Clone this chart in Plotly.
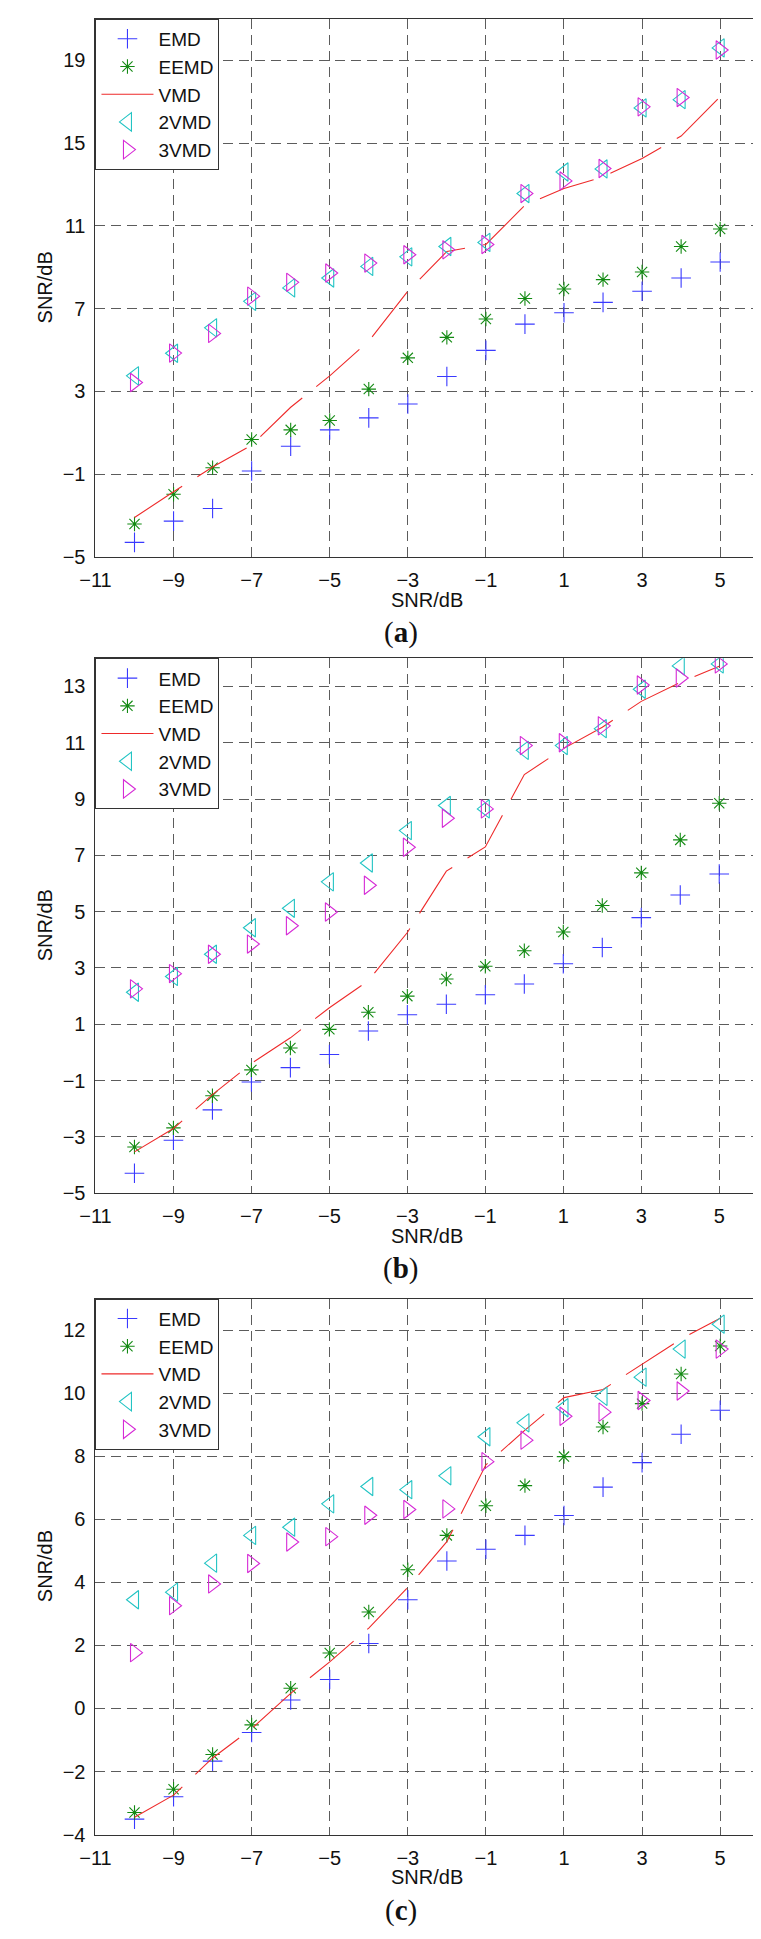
import plotly.graph_objects as go

# ---------------- data ----------------
snr_in = [-10, -9, -8, -7, -6, -5, -4, -3, -2, -1, 0, 1, 2, 3, 4, 5]

a_emd = [-4.3, -3.27, -2.66, -0.85, 0.35, 1.14, 1.72, 2.39, 3.72, 4.98, 6.25, 6.8, 7.3, 7.84, 8.48, 9.25]
a_eemd = [-3.41, -1.97, -0.69, 0.67, 1.14, 1.59, 3.11, 4.62, 5.61, 6.5, 7.49, 7.95, 8.4, 8.77, 10.0, 10.85]
a_vmd = [-3.1, -1.85, -0.66, 0.4, 2.23, 3.75, 5.43, 7.84, 9.76, 10.1, 12.0, 12.8, 13.37, 14.25, 15.34, 17.24]
a_2vmd = [3.75, 4.84, 6.07, 7.35, 8.0, 8.48, 9.04, 9.5, 10.0, 10.2, 12.56, 13.6, 13.75, 16.7, 17.1, 19.6]
a_3vmd = [3.43, 4.85, 5.8, 7.6, 8.27, 8.72, 9.2, 9.6, 9.84, 10.1, 12.56, 13.17, 13.77, 16.75, 17.2, 19.5]

b_emd = [-4.29, -3.12, -2.04, -1.05, -0.54, -0.07, 0.76, 1.34, 1.71, 2.05, 2.43, 3.15, 3.73, 4.79, 5.59, 6.34]
b_eemd = [-3.36, -2.68, -1.54, -0.62, 0.16, 0.82, 1.43, 2.0, 2.61, 3.06, 3.61, 4.28, 5.22, 6.38, 7.55, 8.85]
b_vmd = [-3.53, -2.7, -1.5, -0.39, 0.52, 1.59, 2.55, 4.26, 6.44, 7.3, 9.87, 10.79, 11.55, 12.47, 13.14, 13.72]
b_2vmd = [2.14, 2.7, 3.49, 4.43, 5.12, 6.06, 6.73, 7.88, 8.77, 8.65, 10.73, 10.9, 11.5, 12.9, 13.73, 13.8]
b_3vmd = [2.26, 2.8, 3.49, 3.85, 4.5, 4.99, 5.94, 7.29, 8.32, 8.65, 10.9, 11.0, 11.6, 13.05, 13.3, 13.8]

c_emd = [-3.51, -2.8, -1.67, -0.76, 0.27, 0.92, 2.06, 3.45, 4.68, 5.05, 5.49, 6.12, 7.02, 7.8, 8.7, 9.46]
c_eemd = [-3.3, -2.56, -1.46, -0.52, 0.64, 1.76, 3.06, 4.4, 5.49, 6.43, 7.07, 7.99, 8.93, 9.67, 10.61, 11.5]
c_vmd = [-3.45, -2.75, -1.57, -0.64, 0.48, 1.48, 2.55, 3.84, 5.29, 7.73, 8.83, 9.86, 10.12, 10.91, 11.72, 12.38]
c_2vmd = [3.45, 3.69, 4.61, 5.49, 5.75, 6.49, 7.04, 6.94, 7.38, 8.62, 9.06, 9.54, 9.9, 10.51, 11.4, 12.19]
c_3vmd = [1.77, 3.26, 3.95, 4.6, 5.28, 5.45, 6.13, 6.31, 6.33, 7.83, 8.51, 9.27, 9.4, 9.77, 10.07, 11.4]

series_names = ["EMD", "EEMD", "VMD", "2VMD", "3VMD"]
x_ticks = [-11, -9, -7, -5, -3, -1, 1, 3, 5]
a_yticks = [-5, -1, 3, 7, 11, 15, 19]
b_yticks = [-5, -3, -1, 1, 3, 5, 7, 9, 11, 13]
c_yticks = [-4, -2, 0, 2, 4, 6, 8, 10, 12]
panel_labels = ["a", "b", "c"]

# ---------------- layout constants ----------------
W, H = 761, 1939
FONT = "Liberation Sans, Arial, sans-serif"
panels = [
    dict(data=[a_emd, a_eemd, a_vmd, a_2vmd, a_3vmd], yticks=a_yticks, yr=[-5, 21], top=11, bot=552, right=751),
    dict(data=[b_emd, b_eemd, b_vmd, b_2vmd, b_3vmd], yticks=b_yticks, yr=[-5, 14], top=654, bot=1192, right=750),
    dict(data=[c_emd, c_eemd, c_vmd, c_2vmd, c_3vmd], yticks=c_yticks, yr=[-4, 13], top=1298, bot=1837, right=751),
]
LEFT = 73

BLUE, GREEN, RED, CYAN, MAGENTA = "#3a3aff", "#138a13", "#ee2a2a", "#22c4c4", "#d62ad6"
styles = [
    dict(mode="markers", marker=dict(symbol="cross-thin-open", size=14, color=BLUE, line=dict(color=BLUE, width=1.1))),
    dict(mode="markers", marker=dict(symbol="asterisk-open", size=12, color=GREEN, line=dict(color=GREEN, width=1.1))),
    dict(mode="lines", line=dict(color=RED, width=1.1, dash="57px,18px")),
    dict(mode="markers", marker=dict(symbol="triangle-left-open", size=16, color=CYAN, line=dict(color=CYAN, width=1.1))),
    dict(mode="markers", marker=dict(symbol="triangle-right-open", size=16, color=MAGENTA, line=dict(color=MAGENTA, width=1.1))),
]

fig = go.Figure()
annotations = []
for i, p in enumerate(panels):
    sfx = "" if i == 0 else str(i + 1)
    leg = "legend" + sfx
    for name, ys, st in zip(series_names, p["data"], styles):
        fig.add_trace(go.Scatter(x=snr_in, y=ys, name=name, xaxis="x" + sfx, yaxis="y" + sfx,
                                 legend=leg, **st))
    ydom = [1 - p["bot"] / H, 1 - p["top"] / H]
    xdom = [LEFT / W, p["right"] / W]
    common = dict(showline=True, mirror=True, linecolor="#333", linewidth=1,
                  showgrid=True, gridcolor="#5c5c5c", gridwidth=1, griddash="10px,6px",
                  zeroline=False, ticks="", tickfont=dict(family=FONT, size=20, color="#111"))
    fig.layout["xaxis" + sfx] = dict(domain=xdom, range=[-11, 6], tickvals=x_ticks,
                                     anchor="y" + sfx, ticklabelstandoff=5, **common)
    fig.layout["yaxis" + sfx] = dict(domain=ydom, range=p["yr"], tickvals=p["yticks"],
                                     anchor="x" + sfx, ticklabelstandoff=5, **common)
    fig.layout[leg] = dict(x=LEFT / W, y=ydom[1], xanchor="left", yanchor="top",
                           bgcolor="white", bordercolor="#333", borderwidth=1,
                           font=dict(family=FONT, size=19, color="#111"),
                           itemwidth=52, tracegroupgap=0)
    mid_y = (p["top"] + p["bot"]) / 2
    mid_x = (LEFT + p["right"]) / 2
    annotations.append(dict(text="SNR/dB", xref="paper", yref="paper", x=21 / W, y=1 - mid_y / H,
                            textangle=-90, showarrow=False, xanchor="center", yanchor="middle",
                            font=dict(family=FONT, size=20, color="#111")))
    annotations.append(dict(text="SNR/dB", xref="paper", yref="paper", x=mid_x / W, y=1 - (p["bot"] + 43) / H,
                            showarrow=False, xanchor="center", yanchor="middle",
                            font=dict(family=FONT, size=20, color="#111")))
    annotations.append(dict(text="(<b>" + panel_labels[i] + "</b>)", xref="paper", yref="paper",
                            x=385 / W, y=1 - (p["bot"] + 76) / H, showarrow=False,
                            xanchor="center", yanchor="middle",
                            font=dict(family="Liberation Serif, Times New Roman, serif", size=29, color="#111")))

fig.update_layout(width=W, height=H, autosize=False, margin=dict(l=0, r=0, t=0, b=0),
                  paper_bgcolor="white", plot_bgcolor="white", annotations=annotations,
                  showlegend=True)
fig.write_html("out.html")
